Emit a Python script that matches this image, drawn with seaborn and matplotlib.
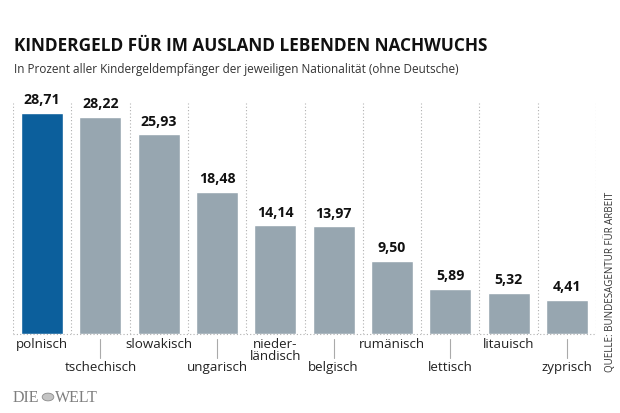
import matplotlib
matplotlib.use("Agg")
import matplotlib.pyplot as plt
import seaborn as sns
import pandas as pd
from matplotlib import font_manager

# ---------------- data ----------------
countries = ["polnisch", "tschechisch", "slowakisch", "ungarisch", "nieder-\nländisch",
             "belgisch", "rumänisch", "lettisch", "litauisch", "zyprisch"]
values = [28.71, 28.22, 25.93, 18.48, 14.14, 13.97, 9.50, 5.89, 5.32, 4.41]
highlight = ["ja", "nein", "nein", "nein", "nein", "nein", "nein", "nein", "nein", "nein"]

title = "KINDERGELD FÜR IM AUSLAND LEBENDEN NACHWUCHS"
subtitle = "In Prozent aller Kindergeldempfänger der jeweiligen Nationalität (ohne Deutsche)"
source = "QUELLE: BUNDESAGENTUR FÜR ARBEIT"

df = pd.DataFrame({"land": countries, "wert": values, "hl": highlight})

sns.set_theme(style="white")
names = {f.name for f in font_manager.fontManager.ttflist}
FONT = "Open Sans" if "Open Sans" in names else "DejaVu Sans"
NARROW = "Liberation Sans Narrow" if "Liberation Sans Narrow" in names else FONT
plt.rcParams["font.family"] = [FONT, "DejaVu Sans"]

W, H = 620, 413
fig = plt.figure(figsize=(W / 100, H / 100), dpi=100)
fig.patch.set_facecolor("white")

# axes: x from 13px to 596px, baseline at 334px, top at 103px
ax = fig.add_axes([13 / W, (H - 334) / H, 583 / W, 231 / H])

BLUE = "#0c5f9c"
GRAY = "#97a6b0"
sns.barplot(data=df, x="land", y="wert", hue="hl", palette={"ja": BLUE, "nein": GRAY},
            dodge=False, legend=False, width=0.72, saturation=1, ax=ax)

ax.set_xlim(-0.5, len(countries) - 0.5)
ax.set_ylim(0, 30)
ax.set_xlabel("")
ax.set_ylabel("")
ax.set_xticks([])
ax.set_yticks([])
for s in ax.spines.values():
    s.set_visible(False)

# dotted separators and baseline
for b in range(len(countries) + 1):
    ax.axvline(b - 0.5, color="#b0b0b0", linestyle=(0, (1, 2)), linewidth=0.8, zorder=0)
ax.axhline(0, color="#b0b0b0", linestyle=(0, (1, 2)), linewidth=0.8, zorder=0, clip_on=False)

# value labels
for cont in ax.containers:
    labels = [f"{v:.2f}".replace(".", ",") for v in cont.datavalues]
    ax.bar_label(cont, labels=labels, padding=4, fontsize=10.2, fontweight="bold",
                 color="#111111", family=[FONT, "DejaVu Sans"])

# category labels, staggered
xt = ax.get_xaxis_transform()
px = 1 / 231.0
for i, name in enumerate(countries):
    if i % 2 == 0:
        ax.text(i, -(338 - 334) * px, name, transform=xt, ha="center", va="top",
                fontsize=9.6, color="#222222", linespacing=0.95)
    else:
        ax.plot([i, i], [-(339 - 334) * px, -(358 - 334) * px], transform=xt,
                color="#aaaaaa", linewidth=0.8, clip_on=False)
        ax.text(i, -(361 - 334) * px, name, transform=xt, ha="center", va="top",
                fontsize=9.6, color="#222222")

# title and subtitle (font size fitted to the reference widths)
renderer = fig.canvas.get_renderer()


def fit(t, target_px):
    w = t.get_window_extent(renderer=renderer).width
    t.set_fontsize(t.get_fontsize() * target_px / w)


t1 = fig.text(14 / W, 1 - 51 / H, title, ha="left", va="baseline", fontsize=12.4,
              fontweight="bold", color="#111111")
fit(t1, 474)
t2 = fig.text(14 / W, 1 - 73 / H, subtitle, ha="left", va="baseline", fontsize=9,
              color="#333333", family=[NARROW, "DejaVu Sans"])
fit(t2, 449)

# source, rotated
t3 = fig.text(610 / W, 1 - 372 / H, source, rotation=90, ha="center", va="bottom",
              fontsize=7, color="#333333")

# logo
fig.text(13 / W, 1 - 402 / H, "DIE", ha="left", va="baseline", fontsize=11.5,
         family="Liberation Serif", color="#7f7f7f")
fig.patches.append(plt.Circle((48 / W, 1 - 397 / H), 5.8 / W, transform=fig.transFigure,
                              facecolor="#c4c4c4", edgecolor="#8a8a8a", linewidth=0.6,
                              figure=fig))
fig.text(55 / W, 1 - 402 / H, "WELT", ha="left", va="baseline", fontsize=11.5,
         family="Liberation Serif", color="#7f7f7f")

fig.savefig("out.png", dpi=100, facecolor="white")
